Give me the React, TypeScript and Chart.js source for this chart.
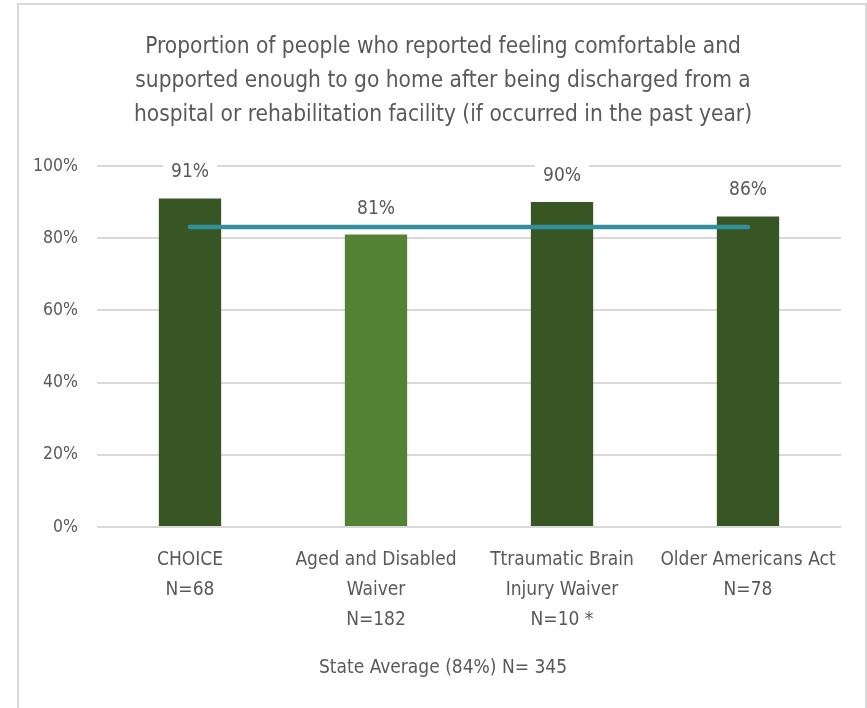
import React, { useEffect, useRef } from "react";
import { Chart, registerables } from "chart.js";

Chart.register(...registerables);

// ---- data ----
const titleLines = [
  "Proportion of people who reported feeling comfortable and",
  "supported enough to go home after being discharged from a",
  "hospital or rehabilitation facility (if occurred in the past year)",
];
const categories = [
  ["CHOICE", "N=68"],
  ["Aged and Disabled", "Waiver", "N=182"],
  ["Ttraumatic Brain", "Injury Waiver", "N=10 *"],
  ["Older Americans Act", "N=78"],
];
const values = [91, 81, 90, 86];
const stateAverage = [83.1, 83.1, 83.1, 83.1];
const yTicks = [0, 20, 40, 60, 80, 100];
const footnote = "State Average (84%) N= 345";

// ---- styles ----
const FONT = "'Liberation Sans Narrow', 'Arial Narrow', 'DejaVu Sans Condensed', Lato, sans-serif";
const TEXT = "#595959";
const GRID = "#D9D9D9";
const DARK = "#375623";
const LIGHT = "#548235";
const barColors = [DARK, LIGHT, DARK, DARK];
const LINE = "#31909B";

const framePlugin = {
  id: "frame",
  beforeDraw(chart: any) {
    const ctx = chart.ctx;
    ctx.save();
    ctx.fillStyle = "#ffffff";
    ctx.fillRect(0, 0, chart.width, chart.height);
    ctx.strokeStyle = GRID;
    ctx.lineWidth = 2;
    ctx.strokeRect(18, 4, 848, 800);
    ctx.restore();
  },
};

const labelPlugin = {
  id: "barLabels",
  afterDatasetsDraw(chart: any) {
    const ctx = chart.ctx;
    const meta = chart.getDatasetMeta(1);
    ctx.save();
    ctx.font = `19px ${FONT}`;
    ctx.textAlign = "center";
    ctx.textBaseline = "middle";
    meta.data.forEach((el: any, i: number) => {
      const txt = `${values[i]}%`;
      const cy = el.y - 26;
      const w = ctx.measureText(txt).width + 16;
      ctx.fillStyle = "#ffffff";
      ctx.fillRect(el.x - w / 2, cy - 13, w, 26);
      ctx.fillStyle = TEXT;
      ctx.fillText(txt, el.x, cy);
    });
    ctx.restore();
  },
};

export default function App() {
  const ref = useRef<HTMLCanvasElement | null>(null);

  useEffect(() => {
    if (!ref.current) return;
    const chart = new Chart(ref.current, {
      type: "bar",
      data: {
        labels: categories,
        datasets: [
          {
            type: "line",
            label: "State Average",
            data: stateAverage,
            borderColor: LINE,
            borderWidth: 4.5,
            borderCapStyle: "round",
            pointRadius: 0,
            fill: false,
            order: 0,
          } as any,
          {
            type: "bar",
            label: "Proportion",
            data: values,
            backgroundColor: barColors,
            categoryPercentage: 1,
            barPercentage: 0.335,
            order: 1,
          },
        ],
      },
      options: {
        responsive: false,
        animation: false,
        devicePixelRatio: 1,
        layout: { padding: { left: 19, right: 0, top: 0, bottom: 0 } },
        plugins: {
          legend: { display: false },
          tooltip: { enabled: false },
          title: {
            display: true,
            text: titleLines,
            color: TEXT,
            font: { family: FONT, size: 22.5, weight: "normal", lineHeight: "34px" } as any,
            padding: { top: 30.5, bottom: 33.5 },
          },
          subtitle: {
            display: true,
            position: "bottom",
            text: footnote,
            color: TEXT,
            font: { family: FONT, size: 19, weight: "normal", lineHeight: "30px" } as any,
            padding: { top: 0, bottom: 25 },
          },
        },
        scales: {
          x: {
            grid: { display: false, drawTicks: false },
            border: { display: false },
            ticks: {
              color: TEXT,
              font: { family: FONT, size: 19, lineHeight: "30px" } as any,
              padding: 18.5,
              maxRotation: 0,
              autoSkip: false,
            },
            afterFit(scale: any) {
              scale.height = 126;
            },
          },
          y: {
            min: 0,
            max: 100,
            grid: { color: GRID, lineWidth: 2, drawTicks: false },
            border: { display: false },
            ticks: {
              color: TEXT,
              font: { family: FONT, size: 17.5 },
              padding: 19,
              callback: (v: any) => `${v}%`,
            },
            afterBuildTicks(scale: any) {
              scale.ticks = yTicks.map((v) => ({ value: v }));
            },
            afterFit(scale: any) {
              scale.width = 78;
            },
          },
          yRightGap: {
            type: "linear",
            position: "right",
            display: true,
            grid: { display: false, drawTicks: false },
            border: { display: false },
            ticks: { display: false },
            afterFit(scale: any) {
              scale.width = 26;
            },
          },
        },
      },
      plugins: [framePlugin, labelPlugin],
    });
    return () => chart.destroy();
  }, []);

  return (
    <div style={{ position: "fixed", left: 0, top: 0, width: 867, height: 708 }}>
      <canvas ref={ref} width={867} height={708} style={{ display: "block" }} />
    </div>
  );
}
